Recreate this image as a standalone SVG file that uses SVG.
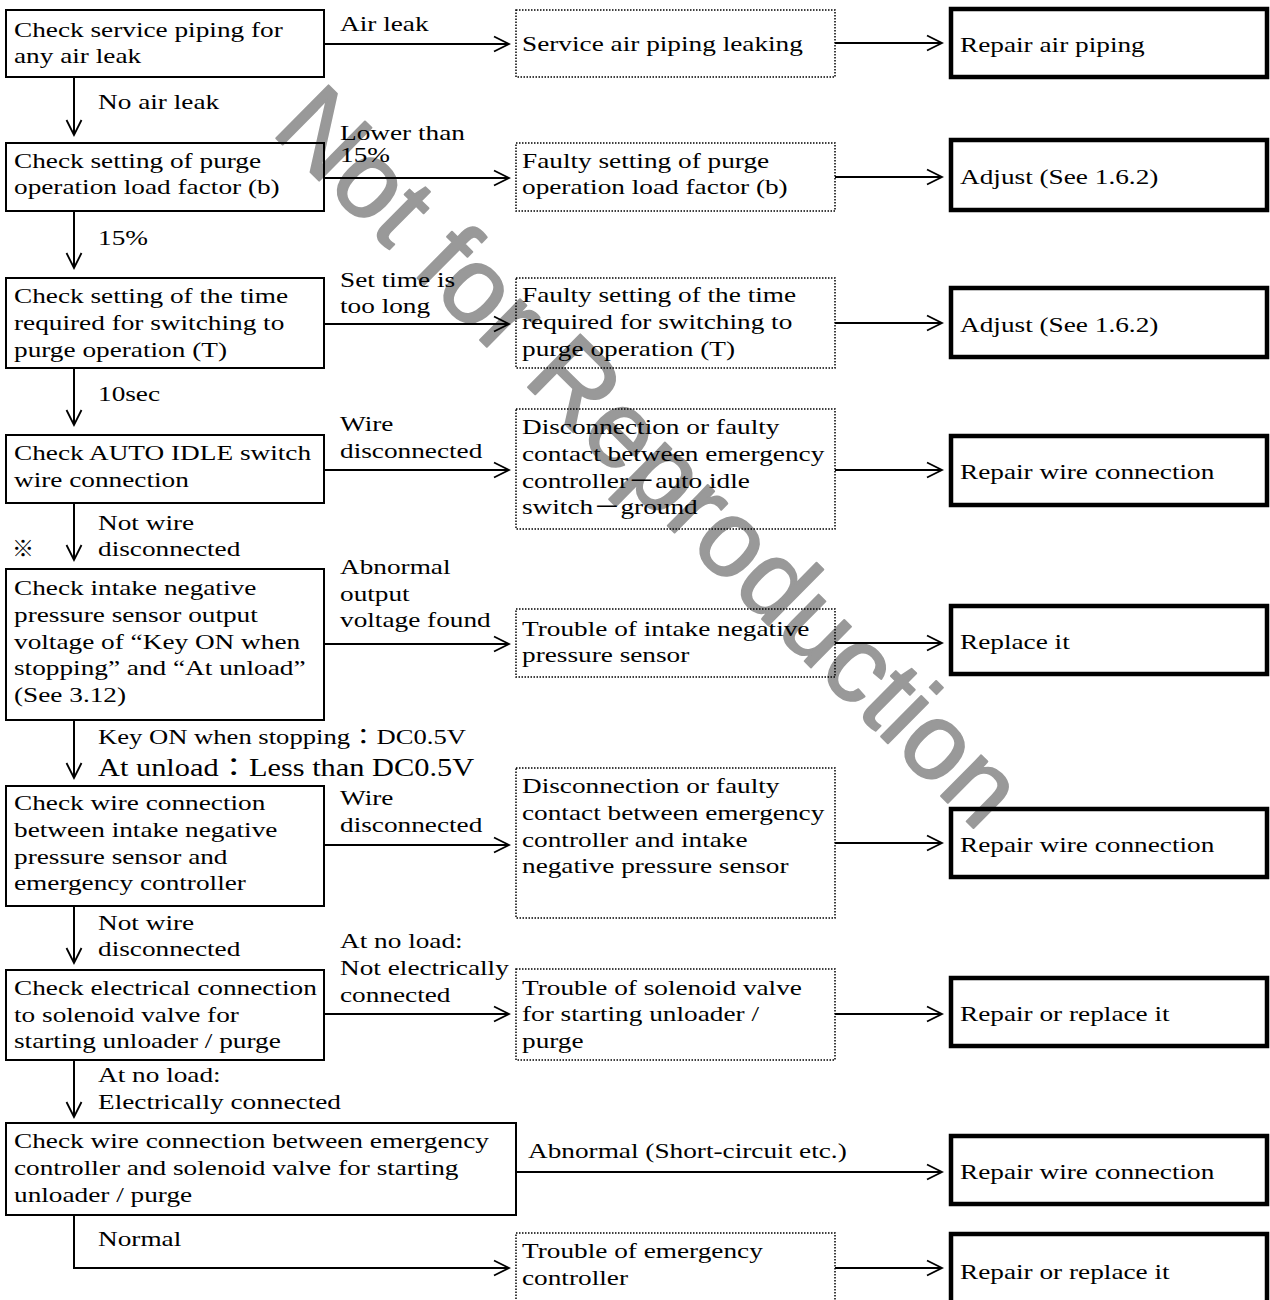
<svg xmlns="http://www.w3.org/2000/svg" width="1270" height="1300" viewBox="0 0 1270 1300">
<style>
.box{fill:none;stroke:#000;stroke-width:2}
.dot{fill:none;stroke:#000;stroke-width:1.5;stroke-dasharray:1.5 1.5}
.thick{fill:none;stroke:#000;stroke-width:4.5}
.t{font-family:"Liberation Serif","Times New Roman","Noto Sans CJK JP",serif;font-size:22px;fill:#000}
.big{font-size:24.5px}
.c{fill:none;stroke:#000;stroke-width:2;marker-end:url(#ah)}
.wm{font-family:"Liberation Sans",Arial,sans-serif;font-size:108px;fill:#999;stroke:#999;stroke-width:2;stroke-linejoin:round}
</style>
<defs>
<marker id="ah" markerUnits="userSpaceOnUse" markerWidth="20" markerHeight="20" viewBox="-18 -10 20 20" refX="0" refY="0" orient="auto">
<path d="M-15,-7.5 L0,0 L-15,7.5" fill="none" stroke="#000" stroke-width="1.8"/>
</marker>
</defs>
<rect width="1270" height="1300" fill="#fff"/>
<text class="wm" transform="translate(270,132) rotate(44.7)">Not for Reproduction</text>

<g id="connectors">
<path class="c" d="M74,77 V135"/>
<path class="c" d="M74,211 V268"/>
<path class="c" d="M74,368 V425"/>
<path class="c" d="M74,503 V560"/>
<path class="c" d="M74,720 V778"/>
<path class="c" d="M74,906 V963"/>
<path class="c" d="M74,1060 V1117"/>
<path class="c" d="M74,1215 V1268 H509"/>
<path class="c" d="M324,44 H509"/>
<path class="c" d="M324,178 H509"/>
<path class="c" d="M324,324 H509"/>
<path class="c" d="M324,470 H509"/>
<path class="c" d="M324,644 H509"/>
<path class="c" d="M324,845 H509"/>
<path class="c" d="M324,1014 H509"/>
<path class="c" d="M516,1172 H942"/>
<path class="c" d="M835,43 H942"/>
<path class="c" d="M835,177 H942"/>
<path class="c" d="M835,323 H942"/>
<path class="c" d="M835,470 H942"/>
<path class="c" d="M835,643 H942"/>
<path class="c" d="M835,843 H942"/>
<path class="c" d="M835,1014 H942"/>
<path class="c" d="M835,1268 H942"/>
<text class="t" transform="matrix(1.24 0 0 1 340 0)" x="0" y="31">Air leak</text>
<text class="t" transform="matrix(1.24 0 0 1 98 0)" x="0" y="109">No air leak</text>
<text class="t" transform="matrix(1.24 0 0 1 340 0)"><tspan x="0" y="140">Lower than</tspan><tspan x="0" y="162">15%</tspan></text>
<text class="t" transform="matrix(1.24 0 0 1 98 0)" x="0" y="245">15%</text>
<text class="t" transform="matrix(1.24 0 0 1 340 0)"><tspan x="0" y="287">Set time is</tspan><tspan x="0" y="313">too long</tspan></text>
<text class="t" transform="matrix(1.24 0 0 1 98 0)" x="0" y="401">10sec</text>
<text class="t" transform="matrix(1.24 0 0 1 340 0)"><tspan x="0" y="431">Wire</tspan><tspan x="0" y="458">disconnected</tspan></text>
<text class="t" transform="matrix(1.24 0 0 1 98 0)"><tspan x="0" y="530">Not wire</tspan><tspan x="0" y="556">disconnected</tspan></text>
<text class="t" x="12" y="556">※</text>
<text class="t" transform="matrix(1.24 0 0 1 340 0)"><tspan x="0" y="574">Abnormal</tspan><tspan x="0" y="601">output</tspan><tspan x="0" y="627">voltage found</tspan></text>
<text class="t" transform="matrix(1.21 0 0 1 98 0)" x="0" y="744">Key ON when stopping：DC0.5V</text>
<text class="t big" transform="matrix(1.24 0 0 1 98 0)" x="0" y="776">At unload：Less than DC0.5V</text>
<text class="t" transform="matrix(1.24 0 0 1 340 0)"><tspan x="0" y="805">Wire</tspan><tspan x="0" y="832">disconnected</tspan></text>
<text class="t" transform="matrix(1.24 0 0 1 98 0)"><tspan x="0" y="930">Not wire</tspan><tspan x="0" y="956">disconnected</tspan></text>
<text class="t" transform="matrix(1.24 0 0 1 340 0)"><tspan x="0" y="948">At no load:</tspan><tspan x="0" y="975">Not electrically</tspan><tspan x="0" y="1002">connected</tspan></text>
<text class="t" transform="matrix(1.24 0 0 1 98 0)"><tspan x="0" y="1082">At no load:</tspan><tspan x="0" y="1109">Electrically connected</tspan></text>
<text class="t" transform="matrix(1.24 0 0 1 528 0)" x="0" y="1158">Abnormal (Short-circuit etc.)</text>
<text class="t" transform="matrix(1.24 0 0 1 98 0)" x="0" y="1246">Normal</text>
</g>

<g id="n1"><rect class="box" x="6" y="10" width="318" height="67"/><text class="t" transform="matrix(1.24 0 0 1 14 0)"><tspan x="0" y="37">Check service piping for</tspan><tspan x="0" y="63">any air leak</tspan></text></g>
<g id="n2"><rect class="box" x="6" y="143" width="318" height="68"/><text class="t" transform="matrix(1.24 0 0 1 14 0)"><tspan x="0" y="168">Check setting of purge</tspan><tspan x="0" y="194">operation load factor (b)</tspan></text></g>
<g id="n3"><rect class="box" x="6" y="278" width="318" height="90"/><text class="t" transform="matrix(1.24 0 0 1 14 0)"><tspan x="0" y="303">Check setting of the time</tspan><tspan x="0" y="330">required for switching to</tspan><tspan x="0" y="357">purge operation (T)</tspan></text></g>
<g id="n4"><rect class="box" x="6" y="435" width="318" height="68"/><text class="t" transform="matrix(1.24 0 0 1 14 0)"><tspan x="0" y="460">Check AUTO IDLE switch</tspan><tspan x="0" y="487">wire connection</tspan></text></g>
<g id="n5"><rect class="box" x="6" y="569" width="318" height="151"/><text class="t" transform="matrix(1.24 0 0 1 14 0)"><tspan x="0" y="595">Check intake negative</tspan><tspan x="0" y="622">pressure sensor output</tspan><tspan x="0" y="649">voltage of “Key ON when</tspan><tspan x="0" y="675">stopping” and “At unload”</tspan><tspan x="0" y="702">(See 3.12)</tspan></text></g>
<g id="n6"><rect class="box" x="6" y="786" width="318" height="120"/><text class="t" transform="matrix(1.24 0 0 1 14 0)"><tspan x="0" y="810">Check wire connection</tspan><tspan x="0" y="837">between intake negative</tspan><tspan x="0" y="864">pressure sensor and</tspan><tspan x="0" y="890">emergency controller</tspan></text></g>
<g id="n7"><rect class="box" x="6" y="970" width="318" height="90"/><text class="t" transform="matrix(1.24 0 0 1 14 0)"><tspan x="0" y="995">Check electrical connection</tspan><tspan x="0" y="1022">to solenoid valve for</tspan><tspan x="0" y="1048">starting unloader / purge</tspan></text></g>
<g id="n8"><rect class="box" x="6" y="1123" width="510" height="92"/><text class="t" transform="matrix(1.24 0 0 1 14 0)"><tspan x="0" y="1148">Check wire connection between emergency</tspan><tspan x="0" y="1175">controller and solenoid valve for starting</tspan><tspan x="0" y="1202">unloader / purge</tspan></text></g>

<g id="d1"><rect class="dot" x="516" y="10" width="319" height="67"/><text class="t" transform="matrix(1.24 0 0 1 522 0)" x="0" y="51">Service air piping leaking</text></g>
<g id="d2"><rect class="dot" x="516" y="143" width="319" height="68"/><text class="t" transform="matrix(1.24 0 0 1 522 0)"><tspan x="0" y="168">Faulty setting of purge</tspan><tspan x="0" y="194">operation load factor (b)</tspan></text></g>
<g id="d3"><rect class="dot" x="516" y="278" width="319" height="90"/><text class="t" transform="matrix(1.24 0 0 1 522 0)"><tspan x="0" y="302">Faulty setting of the time</tspan><tspan x="0" y="329">required for switching to</tspan><tspan x="0" y="356">purge operation (T)</tspan></text></g>
<g id="d4"><rect class="dot" x="516" y="409" width="319" height="120"/><text class="t" transform="matrix(1.24 0 0 1 522 0)"><tspan x="0" y="434">Disconnection or faulty</tspan><tspan x="0" y="461">contact between emergency</tspan><tspan x="0" y="488">controller－auto idle</tspan><tspan x="0" y="514">switch－ground</tspan></text></g>
<g id="d5"><rect class="dot" x="516" y="609" width="319" height="68"/><text class="t" transform="matrix(1.24 0 0 1 522 0)"><tspan x="0" y="636">Trouble of intake negative</tspan><tspan x="0" y="662">pressure sensor</tspan></text></g>
<g id="d6"><rect class="dot" x="516" y="768" width="319" height="150"/><text class="t" transform="matrix(1.24 0 0 1 522 0)"><tspan x="0" y="793">Disconnection or faulty</tspan><tspan x="0" y="820">contact between emergency</tspan><tspan x="0" y="847">controller and intake</tspan><tspan x="0" y="873">negative pressure sensor</tspan></text></g>
<g id="d7"><rect class="dot" x="516" y="969" width="319" height="91"/><text class="t" transform="matrix(1.24 0 0 1 522 0)"><tspan x="0" y="995">Trouble of solenoid valve</tspan><tspan x="0" y="1021">for starting unloader /</tspan><tspan x="0" y="1048">purge</tspan></text></g>
<g id="d9"><rect class="dot" x="516" y="1233" width="319" height="80"/><text class="t" transform="matrix(1.24 0 0 1 522 0)"><tspan x="0" y="1258">Trouble of emergency</tspan><tspan x="0" y="1285">controller</tspan></text></g>

<g id="r1"><rect class="thick" x="951" y="9" width="316" height="68"/><text class="t" transform="matrix(1.24 0 0 1 960 0)" x="0" y="52">Repair air piping</text></g>
<g id="r2"><rect class="thick" x="951" y="140" width="316" height="70"/><text class="t" transform="matrix(1.24 0 0 1 960 0)" x="0" y="184">Adjust (See 1.6.2)</text></g>
<g id="r3"><rect class="thick" x="951" y="288" width="316" height="69"/><text class="t" transform="matrix(1.24 0 0 1 960 0)" x="0" y="332">Adjust (See 1.6.2)</text></g>
<g id="r4"><rect class="thick" x="951" y="436" width="316" height="69"/><text class="t" transform="matrix(1.24 0 0 1 960 0)" x="0" y="479">Repair wire connection</text></g>
<g id="r5"><rect class="thick" x="951" y="606" width="316" height="68"/><text class="t" transform="matrix(1.24 0 0 1 960 0)" x="0" y="649">Replace it</text></g>
<g id="r6"><rect class="thick" x="951" y="809" width="316" height="68"/><text class="t" transform="matrix(1.24 0 0 1 960 0)" x="0" y="852">Repair wire connection</text></g>
<g id="r7"><rect class="thick" x="951" y="978" width="316" height="68"/><text class="t" transform="matrix(1.24 0 0 1 960 0)" x="0" y="1021">Repair or replace it</text></g>
<g id="r8"><rect class="thick" x="951" y="1136" width="316" height="68"/><text class="t" transform="matrix(1.24 0 0 1 960 0)" x="0" y="1179">Repair wire connection</text></g>
<g id="r9"><rect class="thick" x="951" y="1234" width="316" height="80"/><text class="t" transform="matrix(1.24 0 0 1 960 0)" x="0" y="1279">Repair or replace it</text></g>
</svg>
